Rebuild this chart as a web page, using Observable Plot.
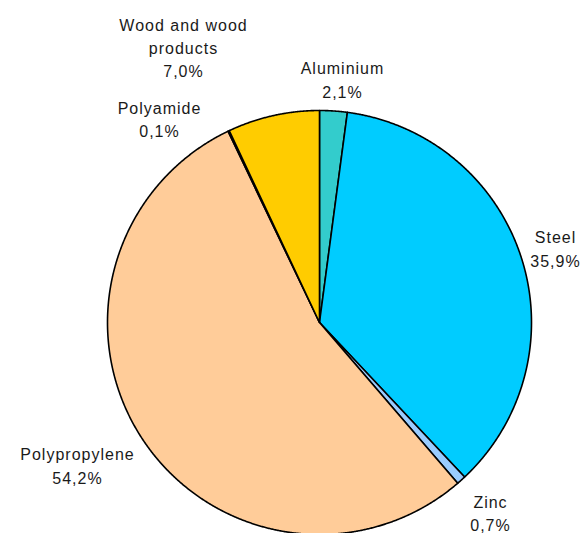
<!DOCTYPE html>
<html><head><meta charset="utf-8">
<script src="https://cdn.jsdelivr.net/npm/d3@7"></script>
<script src="https://cdn.jsdelivr.net/npm/@observablehq/plot@0.6"></script>
<style>
body{margin:0;background:#fff}
#chart text{letter-spacing:1px}
</style>
</head><body><div id="chart"></div>
<script>
// data
const materials = ["Aluminium","Steel","Zinc","Polypropylene","Polyamide","Wood and wood products"];
const shares = [2.1, 35.9, 0.7, 54.2, 0.1, 7.0];
const labelText = ["Aluminium","Steel","Zinc","Polypropylene","Polyamide","Wood and wood\nproducts"];
const colors = ["#33CCCC","#00CCFF","#99CCFF","#FFCC99","#FF9900","#FFCC00"];

// layout
const W = 586, H = 533, cx = 319, cy = 322, R = 212;
const labelPos = [[342,78],[555,247],[490,511.5],[77,464],[159,117.5],[183,46]];

const arcs = d3.pie().sort(null).value(d => d)(shares);
const pts = [];
arcs.forEach((a, i) => {
  const m = materials[i];
  pts.push({m, x: cx, y: cy});
  const n = Math.max(2, Math.ceil((a.endAngle - a.startAngle) / 0.004));
  for (let k = 0; k <= n; k++) {
    const t = a.startAngle + (a.endAngle - a.startAngle) * k / n;
    pts.push({m, x: cx + R * Math.sin(t), y: cy - R * Math.cos(t)});
  }
});
const fmt = v => d3.format(".1f")(v).replace(".", ",") + "%";
const labels = materials.map((m, i) => ({
  x: labelPos[i][0], y: labelPos[i][1],
  t: labelText[i] + "\n" + fmt(shares[i])
}));

const chart = Plot.plot({
  width: W, height: H, margin: 0,
  x: {domain: [0, W], range: [0, W], axis: null},
  y: {domain: [0, H], range: [0, H], axis: null},
  color: {domain: materials, range: colors},
  style: {background: "#fff", overflow: "hidden"},
  marks: [
    Plot.line(pts, {x: "x", y: "y", z: "m", fill: "m", stroke: "black", strokeWidth: 1.6,
      curve: "linear-closed", strokeLinejoin: "round"}),
    Plot.text(labels, {x: "x", y: "y", text: "t", fontSize: 16, lineHeight: 1.45,
      fill: "#1a1a1a", fontFamily: "Liberation Sans, Arial, sans-serif"})
  ]
});
document.getElementById("chart").append(chart);
</script>
</body></html>
